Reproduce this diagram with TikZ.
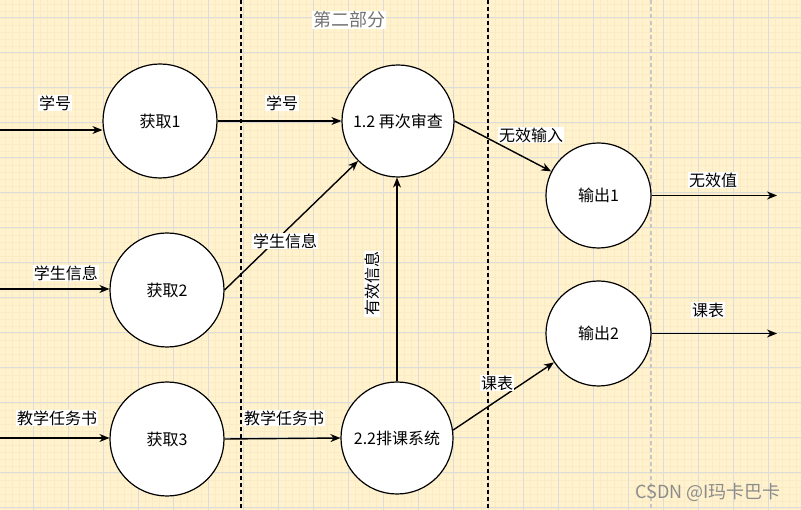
\documentclass[tikz,border=0pt]{standalone}
\usepackage{fontspec}
\newfontfamily\cjk{Noto Sans CJK SC}
\usetikzlibrary{arrows.meta,positioning}
\definecolor{paper}{HTML}{FFF2CC}
\definecolor{minorln}{HTML}{F8EBC6}
\definecolor{majorln}{HTML}{DCDCDA}
\tikzset{proc/.style={circle,draw,line width=1.2pt,fill=white,inner sep=0pt,font=\cjk\fontsize{16}{18}\selectfont},
  lbl/.style={fill=white,inner sep=1pt,font=\cjk\fontsize{16}{18}\selectfont},
  flow/.style={line width=1.4pt,-{Stealth[length=10pt,width=8pt]}}}

\begin{document}
\begin{tikzpicture}[x=1pt,y=-1pt,line join=round]
% --- paper with grid
\useasboundingbox (0,0) rectangle (801,510);
\fill[paper] (0,0) rectangle (801,510);
\foreach \gx in {5,12,...,800} \draw[minorln,line width=0.7pt] (\gx,0) -- (\gx,510);
\foreach \gy in {4,11,...,510} \draw[minorln,line width=0.7pt] (0,\gy) -- (801,\gy);
\foreach \gx in {33,68,...,800} \draw[majorln,line width=1pt] (\gx,0) -- (\gx,510);
\foreach \gy in {18,53,...,510} \draw[majorln,line width=1pt] (0,\gy) -- (801,\gy);
% --- part borders
\draw[line width=1.3pt,dash pattern=on 4pt off 3pt] (241,0) -- (241,510);
\draw[line width=1.3pt,dash pattern=on 4pt off 3pt] (488,0) -- (488,510);
\draw[black!22,line width=1.3pt,dash pattern=on 4pt off 3pt] (651,0) -- (651,510);
\node[fill=white,inner sep=1pt,text=black!55,font=\cjk\fontsize{18}{20}\selectfont] (title) at (349,20) {第二部分};
% --- processes
\node[proc,minimum size=114pt] (get1) at (160,121) {获取1};
\node[proc,minimum size=114pt] (get2) at (167,290) {获取2};
\node[proc,minimum size=114pt] (get3) at (167,439) {获取3};
\node[proc,minimum size=112pt] (chk) at (398,121) {1.2 再次审查};
\node[proc,minimum size=112pt] (sched) at (397,438) {2.2排课系统};
\node[proc,minimum size=105pt] (out1) at (598.5,195.5) {输出1};
\node[proc,minimum size=105pt] (out2) at (598.5,333.5) {输出2};
\coordinate (in1) at (0,130);
\coordinate (in2) at (0,289);
\coordinate (in3) at (0,438);
\coordinate (end1) at (777,195.5);
\coordinate (end2) at (777,333.5);
% --- flows
\draw[flow] (in1) -- (in1 -| get1.west);
\draw[flow] (in2) -- (in2 -| get2.west);
\draw[flow] (in3) -- (in3 -| get3.west);
\draw[flow] (get1.east) -- (chk.west);
\draw[flow] (get2.east) -- (chk.225);
\draw[flow] (get3.east) -- (sched.west);
\draw[flow] (sched.north) -- (sched.north |- chk.south);
\draw[flow] (chk.east) -- (out1.153);
\draw[flow] (sched.8) -- (out2.213);
\draw[flow] (out1.east) -- (end1);
\draw[flow] (out2.east) -- (end2);
% --- flow labels
\node[lbl] (l1) at (55,103) {学号};
\node[lbl] (l2) at (282,103) {学号};
\node[lbl] (l3) at (66,273) {学生信息};
\node[lbl] (l4) at (285,241) {学生信息};
\node[lbl] (l5) at (57,418) {教学任务书};
\node[lbl] (l6) at (284,418) {教学任务书};
\node[lbl,rotate=90] (l7) at (372,284) {有效信息};
\node[lbl] (l8) at (531,135) {无效输入};
\node[lbl] (l9) at (497,383) {课表};
\node[lbl] (l10) at (713,180) {无效值};
\node[lbl] (l11) at (708,310) {课表};
\node[text=black!45,font=\cjk\fontsize{18}{20}\selectfont] (mark) at (708,492) {CSDN @I玛卡巴卡};
\end{tikzpicture}
\end{document}
